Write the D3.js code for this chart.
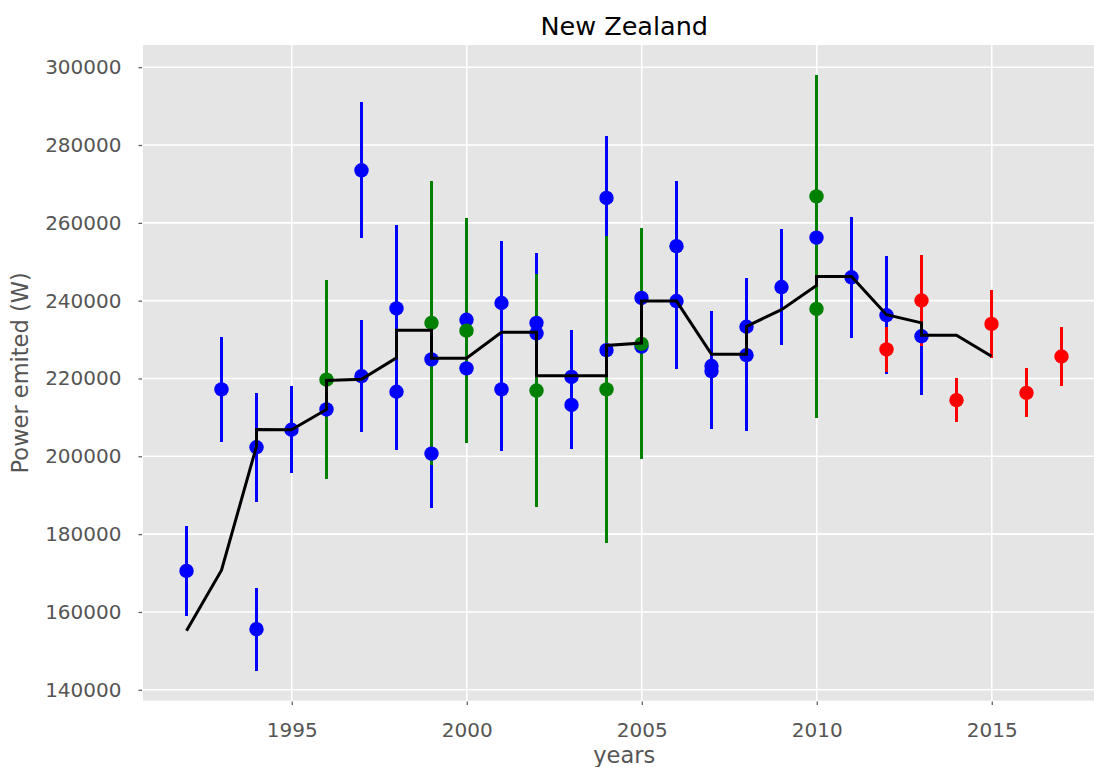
<!DOCTYPE html>
<html>
<head>
<meta charset="utf-8">
<script src="https://cdn.jsdelivr.net/npm/d3@7"></script>
<style>
  html, body { margin: 0; padding: 0; background: #fff; }
  svg { display: block; font-family: "DejaVu Sans", sans-serif; }
</style>
</head>
<body>
<svg id="chart" width="1094" height="767"></svg>
<script>
// ---- Data ----
const title = "New Zealand";
const xLabel = "years";
const yLabel = "Power emited (W)";

const xTicks = [1995, 2000, 2005, 2010, 2015];
const yTicks = [140000, 160000, 180000, 200000, 220000, 240000, 260000, 280000, 300000];

const blueYears  = [1992, 1993, 1994, 1994, 1995, 1996, 1997, 1997, 1998, 1998, 1999, 1999, 2000, 2000,
                    2001, 2001, 2002, 2002, 2003, 2003, 2004, 2004, 2005, 2005, 2006, 2006, 2007, 2007,
                    2008, 2008, 2009, 2010, 2011, 2012, 2013];
const blueValues = [170550, 217200, 202330, 155570, 206830, 212050, 273500, 220600, 238000, 216600, 224900, 200700, 235100, 222600,
                    239400, 217200, 234300, 231600, 220400, 213200, 266400, 227300, 240700, 228200, 254000, 239900, 223200, 221900,
                    233300, 226000, 243500, 256200, 246000, 236250, 230850];
const blueErrors = [11600, 13500, 14000, 10700, 11200, 10000, 17500, 14400, 21500, 15000, 12000, 13900, 12000, 12000,
                    15900, 15900, 18000, 15000, 12000, 11400, 15800, 15000, 15000, 15000, 16700, 17500, 14100, 15000,
                    12600, 19500, 14800, 20000, 15500, 15100, 15000];

const greenYears  = [1996, 1999, 2000, 2002, 2004, 2005, 2010, 2010];
const greenValues = [219700, 234300, 232300, 216900, 217200, 228900, 266800, 237900];
const greenErrors = [25600, 36500, 28900, 30000, 39400, 29700, 31300, 28000];

const redYears  = [2012, 2013, 2014, 2015, 2016, 2017];
const redValues = [227460, 240050, 214440, 234030, 216310, 225660];
const redErrors = [5900, 11700, 5700, 8800, 6300, 7700];

const lineYears  = [1992, 1993, 1994, 1994, 1995, 1996, 1996, 1997, 1998, 1998, 1999, 1999, 2000, 2001, 2002, 2002,
                    2003, 2004, 2004, 2005, 2005, 2006, 2007, 2008, 2008, 2009, 2010, 2010, 2011, 2012, 2013, 2013, 2014, 2015];
const lineValues = [155150, 170730, 202600, 206900, 206800, 212050, 219500, 219800, 225300, 232400, 232400, 225200, 225200, 231900, 231900, 220700,
                    220700, 220700, 228500, 229100, 239900, 239900, 226200, 226200, 233400, 237700, 243900, 246200, 246200, 236400, 234300, 231100, 231100, 225700];

// ---- Layout ----
const plot = { left: 143, right: 1105.5, top: 45, bottom: 700.7 };
const svg = d3.select("#chart");

const x = d3.scaleLinear().domain([1990.75, 2018.25]).range([plot.left, plot.right]);
const y = d3.scaleLinear().domain([137200, 305700]).range([plot.bottom, plot.top]);

// background
svg.append("rect")
  .attr("x", plot.left).attr("y", plot.top)
  .attr("width", plot.right - plot.left).attr("height", plot.bottom - plot.top)
  .attr("fill", "#E5E5E5");

// grid
const grid = svg.append("g");
grid.selectAll("line.gx").data(xTicks).join("line")
  .attr("x1", d => x(d)).attr("x2", d => x(d))
  .attr("y1", plot.top).attr("y2", plot.bottom)
  .attr("stroke", "#fff").attr("stroke-width", 1.6);
grid.selectAll("line.gy").data(yTicks).join("line")
  .attr("x1", plot.left).attr("x2", plot.right)
  .attr("y1", d => y(d)).attr("y2", d => y(d))
  .attr("stroke", "#fff").attr("stroke-width", 1.6);

// axes
const xAxis = svg.append("g")
  .attr("transform", `translate(0,${plot.bottom + 0.8})`)
  .call(d3.axisBottom(x).tickValues(xTicks).tickFormat(d3.format("d")).tickSize(3.5).tickPadding(17.5));
const yAxis = svg.append("g")
  .attr("transform", `translate(${plot.left - 1},0)`)
  .call(d3.axisLeft(y).tickValues(yTicks).tickFormat(d3.format("d")).tickSize(3.5).tickPadding(17));
[xAxis, yAxis].forEach(g => {
  g.select(".domain").remove();
  g.selectAll(".tick line").attr("stroke", "#555").attr("stroke-width", 1.2);
  g.selectAll(".tick text").attr("fill", "#555").attr("font-size", 20).attr("font-family", "DejaVu Sans");
});

// series
const series = [
  { years: blueYears,  values: blueValues,  errors: blueErrors,  color: "#0000ff" },
  { years: greenYears, values: greenValues, errors: greenErrors, color: "#008000" },
  { years: redYears,   values: redValues,   errors: redErrors,   color: "#ff0000" }
];

// snap bar centres to pixel centres so overlapping bars of different series cover each other cleanly
const xb = yr => Math.floor(x(yr)) + 0.5;

const bars = svg.append("g");
const dots = svg.append("g");
series.forEach(s => {
  const rows = s.years.map((yr, i) => ({ yr, v: s.values[i], e: s.errors[i] }));
  bars.append("g").selectAll("line").data(rows).join("line")
    .attr("x1", d => xb(d.yr)).attr("x2", d => xb(d.yr))
    .attr("y1", d => y(d.v - d.e)).attr("y2", d => y(d.v + d.e))
    .attr("stroke", s.color).attr("stroke-width", 3)
    .attr("shape-rendering", "crispEdges");
  dots.append("g").selectAll("circle").data(rows).join("circle")
    .attr("cx", d => xb(d.yr)).attr("cy", d => y(d.v))
    .attr("r", 7.2).attr("fill", s.color);
});

// black line
const linePts = lineYears.map((yr, i) => [yr, lineValues[i]]);
svg.append("path")
  .datum(linePts)
  .attr("d", d3.line().x(d => xb(d[0])).y(d => y(d[1])))
  .attr("fill", "none").attr("stroke", "#000").attr("stroke-width", 3)
  .attr("stroke-linejoin", "miter");

// title and labels
svg.append("text")
  .attr("x", (plot.left + plot.right) / 2).attr("y", 35)
  .attr("text-anchor", "middle").attr("font-size", 25.5).attr("fill", "#000")
  .text(title);
svg.append("text")
  .attr("x", (plot.left + plot.right) / 2).attr("y", 763)
  .attr("text-anchor", "middle").attr("font-size", 22.5).attr("fill", "#555")
  .text(xLabel);
svg.append("text")
  .attr("transform", `translate(28,${(plot.top + plot.bottom) / 2}) rotate(-90)`)
  .attr("text-anchor", "middle").attr("font-size", 22.5).attr("fill", "#555")
  .text(yLabel);
</script>
</body>
</html>
